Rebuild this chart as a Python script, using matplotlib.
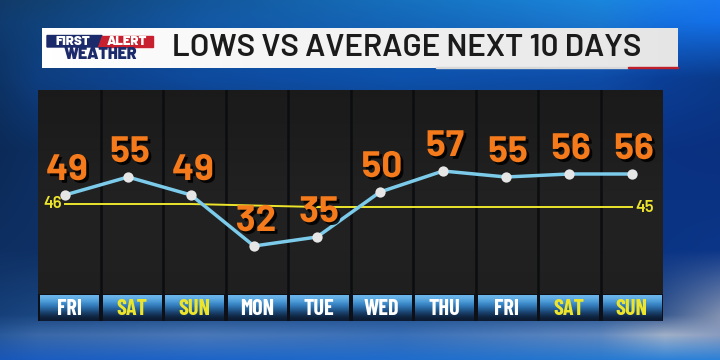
import numpy as np
import matplotlib
matplotlib.use("Agg")
import matplotlib.pyplot as plt
import matplotlib.patheffects as pe
from matplotlib.patches import Rectangle, Polygon
from matplotlib.colors import to_rgb

# chart data
days = ["FRI", "SAT", "SUN", "MON", "TUE", "WED", "THU", "FRI", "SAT", "SUN"]
weekend = [False, True, True, False, False, False, False, False, True, True]
lows = [49, 55, 49, 32, 35, 50, 57, 55, 56, 56]
avg_lows = [46, 46, 46, 45.5, 45, 45, 45, 45, 45, 45]
title = "LOWS VS AVERAGE NEXT 10 DAYS"

W, H = 720, 360
TITLEF = ["Barlow", "Roboto Condensed", "DejaVu Sans"]
DAYF = ["Barlow Condensed", "Roboto Condensed", "IBM Plex Sans Condensed", "DejaVu Sans"]
NUMF = ["Barlow", "Roboto", "DejaVu Sans"]
ORANGE = "#f47a1c"
YELLOW = "#ece52c"


def fig_rect(x0, y0, x1, y1):
    """pixel box (top-left origin) -> figure fraction rect"""
    return [x0 / W, 1 - y1 / H, (x1 - x0) / W, (y1 - y0) / H]


fig = plt.figure(figsize=(7.2, 3.6), dpi=100)

# background: colour grid at uneven pixel positions, linearly blended
bg_x = [0, 38, 200, 400, 600, 665, 720]
bg_y = [0, 22, 78, 150, 250, 315, 335, 360]
bg_hex = [
    ["#123a68", "#124070", "#13569a", "#1670bd", "#1a86dc", "#1a7ee8", "#1a78f0"],
    ["#0f3b70", "#10427a", "#1358a4", "#1466b8", "#1a78d0", "#1470e0", "#1470e8"],
    ["#0d3466", "#0e3e80", "#0e4a9e", "#0d52ac", "#0e4ca8", "#0a3e96", "#0a3a8a"],
    ["#0b2a58", "#0c2e60", "#0c3066", "#0c3270", "#0b3478", "#0a3282", "#0a3080"],
    ["#0e2f62", "#0e3064", "#0e3268", "#0d3470", "#0c3478", "#0a3484", "#0c3688"],
    ["#16407a", "#1a4680", "#1e4c88", "#22508c", "#2a5690", "#3a5a90", "#8090b0"],
    ["#2a5a9c", "#3a68a8", "#4a78b8", "#3a70b8", "#6088c0", "#a0b0c8", "#8a9cc0"],
    ["#1856b8", "#1a5cc0", "#1c64c8", "#1e6ccc", "#2478d0", "#2a80d8", "#2a80d8"],
]
grid = np.array([[to_rgb(c) for c in row] for row in bg_hex])
px, py = np.arange(W) + 0.5, np.arange(H) + 0.5
rows = np.stack([np.stack([np.interp(px, bg_x, grid[r, :, ch]) for ch in range(3)], -1)
                 for r in range(len(bg_y))])
bg = np.stack([np.stack([np.interp(py, bg_y, rows[:, c, ch]) for ch in range(3)], -1)
               for c in range(W)], 1)

bg_ax = fig.add_axes([0, 0, 1, 1])
bg_ax.imshow(bg, extent=[0, W, H, 0], aspect="auto", interpolation="bilinear")

# title banner
banner = np.linspace(1.0, 0.9, 64)[None, :, None] * np.ones((1, 1, 3))
bg_ax.imshow(banner, extent=[42, 678, 68, 28], aspect="auto", zorder=2)
bg_ax.add_patch(Rectangle((436, 66.5), 192, 1.5, color="#d8d8d8", zorder=3))
bg_ax.add_patch(Rectangle((628, 66.5), 50, 1.5, color="#c0202c", zorder=3))
bg_ax.set_xlim(0, W)
bg_ax.set_ylim(H, 0)
bg_ax.axis("off")

# logo
bg_ax.add_patch(Polygon([(47, 35.5), (102, 35.5), (98, 47), (47, 47)],
                        color="#1b2a6b", zorder=3))
bg_ax.add_patch(Polygon([(102, 35.5), (153, 35.5), (153, 47), (98, 47)],
                        color="#c8202e", zorder=3))
bg_ax.text(73, 41.5, "FIRST", ha="center", va="center", color="white",
           fontsize=9.5, fontweight="black", family=NUMF, zorder=4)
bg_ax.text(127, 41.5, "ALERT", ha="center", va="center", color="white",
           fontsize=9.5, fontweight="black", family=NUMF, zorder=4)
bg_ax.text(100, 54.3, "WEATHER", ha="center", va="center", color="#1b2a6b",
           fontsize=11.5, fontweight="black", family=NUMF, zorder=4)
bg_ax.text(407, 48.5, title, ha="center", va="center", color="#1b1b1b",
           fontsize=22.5, fontweight="semibold", family=TITLEF, zorder=4)

# dark panel with columns
panel_ax = fig.add_axes(fig_rect(38, 90, 663, 321))
shade = np.array([0.105, 0.12, 0.135, 0.13, 0.12])[:, None, None] * np.ones((1, 1, 3))
panel_ax.imshow(shade, extent=[0, 10, 0, 1], aspect="auto", interpolation="bicubic")
for k in range(1, 10):
    panel_ax.axvline(k, color="#0c0d10", lw=1.8)
panel_ax.set_xlim(0, 10)
panel_ax.set_ylim(0, 1)
panel_ax.axis("off")

# day tiles
tile_ax = fig.add_axes(fig_rect(38, 294, 663, 321))
tile_ax.set_facecolor("#0d1016")
grad = np.array(["#6cb6ea", "#3e90d0", "#2a6aa6", "#163a62", "#0c1a30"])
grad = np.array([to_rgb(c) for c in grad])[:, None, :]
for i, day in enumerate(days):
    tile_ax.imshow(grad, extent=[i + 0.035, i + 0.965, 0.0, 0.96], aspect="auto",
                   interpolation="bicubic")
    tile_ax.text(i + 0.5, 0.46, day, ha="center", va="center",
                 color=YELLOW if weekend[i] else "white",
                 fontsize=16, fontweight="bold", family=DAYF)
tile_ax.set_xlim(0, 10)
tile_ax.set_ylim(0, 1)
tile_ax.set_xticks([])
tile_ax.set_yticks([])
for s in tile_ax.spines.values():
    s.set_visible(False)

# data axes
ax = fig.add_axes(fig_rect(38, 90, 663, 321))
ax.patch.set_alpha(0)
x = np.arange(len(lows))
ax.set_xlim(-27 / 63, (663 - 65) / 63)
ax.set_ylim(7, 84)
ax.axis("off")

ax.plot(x, avg_lows, color=YELLOW, lw=1.4, zorder=2)
ax.annotate(f"{avg_lows[0]:g}", (x[0], avg_lows[0]), xytext=(-12, 0),
            textcoords="offset pixels", ha="center", va="center",
            color=YELLOW, fontsize=12, fontweight="semibold", family=NUMF)
ax.annotate(f"{avg_lows[-1]:g}", (x[-1], avg_lows[-1]), xytext=(13, 0),
            textcoords="offset pixels", ha="center", va="center",
            color=YELLOW, fontsize=12, fontweight="semibold", family=NUMF)

ax.plot(x, lows, color="#7ccbea", lw=2.5, zorder=3)
ax.scatter(x, lows, s=55, color="#e6e6e6", zorder=4, linewidths=0)

shadow = [pe.SimplePatchShadow(offset=(2, -2), shadow_rgbFace="black", alpha=0.85),
          pe.Normal()]
for xi, v in zip(x, lows):
    ax.annotate(str(v), (xi, v), xytext=(2, 24), textcoords="offset pixels",
                ha="center", va="center", color=ORANGE, fontsize=26.5,
                fontweight="bold", family=NUMF, path_effects=shadow, zorder=5)

fig.savefig("out.png", dpi=100)
plt.close(fig)
